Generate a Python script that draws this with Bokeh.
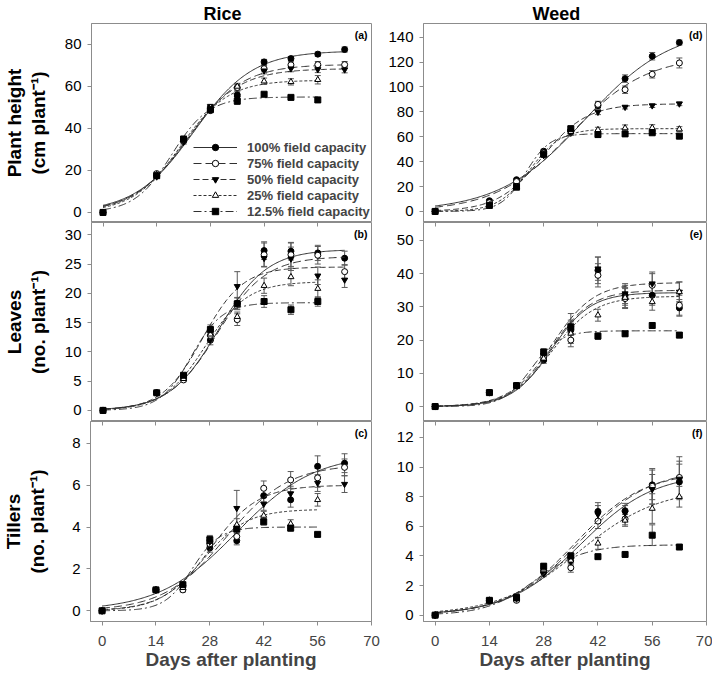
import math
from bokeh.plotting import figure
from bokeh.models import (Range1d, FixedTicker, LinearAxis, Whisker, TeeHead,
                          ColumnDataSource, Legend, LegendItem, Label)
from bokeh.layouts import column, row
from bokeh.embed import file_html
from bokeh.resources import INLINE

# ---------------- data ----------------
days = [0, 14, 21, 28, 35, 42, 49, 56, 63]
x_ticks = [0, 14, 28, 42, 56, 70]
series_labels = ["100% field capacity", "75% field capacity", "50% field capacity",
                 "25% field capacity", "12.5% field capacity"]

# (a) Rice plant height
rice_height = [
    [0, 17.5, 34.5, 48.5, 56.0, 71.7, 73.3, 75.4, 77.6],
    [0, 18.5, 34.0, 49.5, 59.5, 68.5, 70.3, 70.4, 70.4],
    [0, 17.0, 33.5, 50.5, 54.5, 67.5, 68.5, 68.1, 68.0],
    [0, 18.0, 34.5, 50.0, 60.0, 62.5, 62.2, 63.2],
    [0, 17.5, 35.0, 49.0, 53.0, 56.3, 54.8, 53.6],
]
rice_height_err = [
    [0, 0.8, 1.0, 1.0, 1.5, 1.2, 1.0, 1.0, 1.2],
    [0, 0.8, 1.0, 1.0, 1.5, 1.5, 1.5, 1.5, 1.5],
    [0, 0.8, 1.0, 1.0, 1.5, 1.5, 1.5, 1.5, 1.5],
    [0, 0.8, 1.0, 1.0, 1.5, 1.5, 1.5, 2.0],
    [0, 0.8, 1.0, 1.0, 1.5, 0.8, 0.8, 1.2],
]
rice_height_fit = [(77, 23.7, 7.69), (70.5, 22.15, 7.11), (68.5, 21.65, 6.90),
                   (63, 20.2, 6.23), (55, 17.9, 4.82)]

# (d) Weed plant height
weed_height = [
    [0, 8.6, 25.5, 48.4, 65.0, 85.0, 106.7, 124.7, 135.7],
    [0, 7.0, 24.0, 47.0, 64.0, 86.0, 97.8, 110.2, 119.3],
    [0, 5.0, 21.0, 45.0, 63.0, 79.8, 83.8, 85.0, 86.5],
    [0, 5.0, 20.0, 45.5, 64.0, 65.6, 67.0, 67.2, 66.1],
    [0, 4.8, 19.5, 46.0, 66.5, 61.8, 62.3, 63.2, 60.5],
]
weed_height_err = [
    [0, 1.0, 1.0, 1.5, 2.0, 2.0, 3.0, 3.0, 2.0],
    [0, 1.0, 1.0, 1.5, 2.0, 2.5, 3.0, 3.0, 4.0],
    [0, 0.8, 1.0, 1.5, 2.0, 2.0, 1.5, 1.5, 1.5],
    [0, 0.8, 1.0, 1.5, 2.0, 2.0, 2.5, 2.5, 2.0],
    [0, 0.8, 1.0, 1.5, 2.0, 2.5, 1.5, 1.5, 1.5],
]
weed_height_fit = [(148, 38.7, 11.1), (125, 35.0, 9.74), (86.5, 27.55, 5.76),
                   (66.5, 24.4, 4.04), (62.5, 23.4, 3.14)]

# (b) Rice leaves
rice_leaves = [
    [0, 3.0, 5.5, 12.0, 18.3, 27.3, 27.2, 26.9, 26.0],
    [0, 3.0, 5.2, 12.8, 15.5, 26.6, 26.6, 26.5, 23.7],
    [0, 3.0, 5.8, 13.5, 21.2, 26.0, 25.9, 23.0, 22.3],
    [0, 3.0, 5.4, 13.0, 16.0, 21.3, 22.8, 20.8],
    [0, 3.0, 6.0, 13.8, 18.2, 18.6, 17.2, 18.6],
]
rice_leaves_err = [
    [0, 0.2, 0.3, 0.8, 1.0, 1.5, 1.5, 1.3, 1.2],
    [0, 0.2, 0.3, 0.8, 1.0, 2.0, 2.0, 1.5, 1.2],
    [0, 0.2, 0.3, 0.8, 2.5, 1.5, 2.0, 1.5, 1.3],
    [0, 0.2, 0.3, 0.8, 0.8, 1.3, 1.5, 1.5],
    [0, 0.2, 0.3, 0.8, 1.0, 1.0, 0.8, 0.8],
]
rice_leaves_fit = [(27.5, 30.1, 6.33), (26.3, 29.8, 6.32), (24.5, 25.9, 5.26),
                   (22.0, 26.7, 5.52), (18.4, 23.0, 4.05)]

# (e) Weed leaves
weed_leaves = [
    [0, 4.2, 6.3, 14.0, 23.0, 41.0, 33.5, 33.5, 29.7],
    [0, 4.2, 6.3, 15.0, 20.0, 39.5, 32.5, 36.5, 30.5],
    [0, 4.2, 6.3, 15.5, 23.5, 41.5, 34.0, 37.0, 34.5],
    [0, 4.0, 6.3, 14.5, 22.0, 27.5, 32.8, 31.5, 34.5],
    [0, 4.2, 6.3, 16.4, 24.0, 21.2, 21.9, 24.4, 21.5],
]
weed_leaves_err = [
    [0, 0.4, 0.5, 1.0, 2.5, 4.0, 3.0, 3.0, 2.5],
    [0, 0.4, 0.5, 1.0, 2.0, 3.5, 3.0, 3.5, 3.0],
    [0, 0.4, 0.5, 1.0, 4.5, 3.5, 3.0, 3.5, 3.0],
    [0, 0.4, 0.5, 1.0, 2.0, 1.8, 3.0, 2.5, 3.0],
    [0, 0.4, 0.5, 1.0, 2.0, 1.0, 0.8, 0.8, 0.8],
]
weed_leaves_fit = [(34.3, 30.0, 5.08), (35.0, 29.9, 5.17), (37.3, 30.15, 5.41),
                   (33.2, 30.1, 5.5), (22.8, 24.8, 3.65)]

# (c) Rice tillers
rice_tillers = [
    [0, 1.0, 1.2, 3.0, 3.35, 5.5, 5.3, 6.9, 7.05],
    [0, 1.0, 1.0, 3.2, 3.55, 5.85, 6.25, 6.35, 6.85],
    [0, 1.0, 1.2, 3.3, 4.9, 5.1, 5.6, 6.1, 6.05],
    [0, 1.0, 1.1, 3.3, 4.1, 4.55, 4.15, 5.3],
    [0, 1.0, 1.25, 3.4, 3.9, 4.25, 3.95, 3.65],
]
rice_tillers_err = [
    [0, 0.05, 0.1, 0.2, 0.2, 0.3, 0.35, 0.5, 0.45],
    [0, 0.05, 0.1, 0.2, 0.3, 0.35, 0.4, 0.45, 0.4],
    [0, 0.05, 0.1, 0.2, 0.85, 0.3, 0.35, 0.4, 0.4],
    [0, 0.05, 0.1, 0.2, 0.3, 0.2, 0.2, 0.3],
    [0, 0.05, 0.1, 0.2, 0.2, 0.15, 0.15, 0.1],
]
rice_tillers_fit = [(7.5, 35.0, 10.1), (7.0, 32.2, 8.07), (6.0, 28.3, 6.12),
                    (4.85, 26.15, 5.71), (4.0, 23.4, 3.57)]

# (f) Weed tillers
weed_tillers = [
    [0, 1.0, 1.05, 2.9, 3.9, 7.0, 7.05, 8.8, 9.0],
    [0, 1.0, 1.0, 3.0, 3.2, 6.35, 6.5, 8.7, 9.3],
    [0, 1.0, 1.1, 2.8, 3.6, 6.8, 6.9, 8.5, 9.2],
    [0, 1.0, 1.1, 3.1, 3.7, 4.85, 6.4, 7.2, 8.0],
    [0, 1.0, 1.2, 3.3, 4.0, 3.95, 4.1, 5.4, 4.6],
]
weed_tillers_err = [
    [0, 0.05, 0.1, 0.2, 0.3, 0.6, 0.5, 1.0, 1.2],
    [0, 0.05, 0.1, 0.2, 0.3, 0.5, 0.4, 1.2, 1.4],
    [0, 0.05, 0.1, 0.2, 0.3, 0.6, 0.5, 1.0, 1.2],
    [0, 0.05, 0.1, 0.2, 0.3, 0.4, 0.4, 1.0, 0.7],
    [0, 0.05, 0.1, 0.2, 0.2, 0.15, 0.1, 0.7, 0.1],
]
weed_tillers_fit = [(9.6, 37.6, 9.4), (9.9, 37.2, 9.21), (9.7, 36.1, 8.89),
                    (8.6, 37.1, 10.35), (4.75, 25.9, 6.29)]

# ---------------- style ----------------
FONT = "Liberation Sans"
GRAY = "#8c8c8c"
ERR = "#5a5a5a"
LINE = "#303030"
markers = ["circle", "circle", "inverted_triangle", "triangle", "square"]
fills = ["black", "white", "black", "white", "black"]
dashes = ["solid", "8 4", "6 3", "3 2", "8 3 2 3"]


def fit_curve(xs, a, x0, b):
    return [a / (1.0 + math.exp(-(x - x0) / b)) for x in xs]


def make_panel(col, rw, data, err, fit, yr, yt, letter, ylabel=None, title=None,
               title_offset=0, legend=False, ylabel_standoff=13):
    fw = 285 if col == 0 else 283
    mbl = 86 if col == 0 else 42
    mbr = 10 if col == 0 else 6
    fh = [199, 199, 200][rw]
    mbt = 23 if rw == 0 else 0
    mbb = 52 if rw == 2 else 0
    p = figure(width=mbl + fw + mbr, height=mbt + fh + mbb,
               x_range=Range1d(-3, 70), y_range=Range1d(*yr),
               output_backend="svg", toolbar_location=None,
               min_border_left=mbl, min_border_right=mbr,
               min_border_top=mbt, min_border_bottom=mbb)
    p.xgrid.visible = False
    p.ygrid.visible = False
    p.outline_line_color = GRAY
    p.outline_line_width = 1
    p.background_fill_color = "white"
    p.border_fill_color = "white"

    if title:
        p.title.text = title
        p.title.align = "left"
        p.title.offset = title_offset
        p.title.standoff = 0
        p.title.text_font = FONT
        p.title.text_font_size = "18px"
        p.title.text_font_style = "bold"
        p.title.text_color = "black"

    yax = p.yaxis[0]
    yax.ticker = FixedTicker(ticks=yt)
    yax.major_tick_out = 4
    yax.major_tick_in = 0
    yax.minor_tick_line_color = None
    yax.major_tick_line_color = GRAY
    yax.axis_line_color = GRAY
    yax.major_label_text_font = FONT
    yax.major_label_text_font_size = "15px"
    yax.major_label_text_color = "black"
    yax.major_label_standoff = 6
    if ylabel:
        yax.axis_label = ylabel
        yax.axis_label_text_font = FONT
        yax.axis_label_text_font_size = "19px"
        yax.axis_label_text_font_style = "bold"
        yax.axis_label_text_color = "black"
        yax.axis_label_text_line_height = 1.15
        yax.axis_label_standoff = ylabel_standoff

    xax = p.xaxis[0]
    if rw == 2:
        xax.ticker = FixedTicker(ticks=x_ticks)
        xax.major_tick_out = 4
        xax.major_tick_in = 0
        xax.minor_tick_line_color = None
        xax.major_tick_line_color = GRAY
        xax.axis_line_color = GRAY
        xax.major_label_text_font = FONT
        xax.major_label_text_font_size = "15px"
        xax.major_label_standoff = 10
        xax.axis_label = "Days after planting"
        xax.axis_label_text_font = FONT
        xax.axis_label_text_font_size = "19px"
        xax.axis_label_text_font_style = "bold"
        xax.axis_label_standoff = 0
    else:
        xax.visible = False

    if rw > 0:
        # ticks of the panel above, pointing down into this panel
        top_ax = LinearAxis(fixed_location=yr[1], ticker=FixedTicker(ticks=x_ticks),
                            major_tick_in=4, major_tick_out=0,
                            minor_tick_line_color=None, major_tick_line_color=GRAY,
                            axis_line_color=None,
                            major_label_overrides={t: "" for t in x_ticks})
        p.add_layout(top_ax, "above")

    items = []
    for i in range(5):
        yv = data[i]
        ev = err[i]
        xv = days[:len(yv)]
        src = ColumnDataSource(dict(x=xv, y=yv,
                                    lo=[v - e for v, e in zip(yv, ev)],
                                    hi=[v + e for v, e in zip(yv, ev)]))
        w = Whisker(source=src, base="x", upper="hi", lower="lo",
                    line_color=ERR, line_width=1,
                    upper_head=TeeHead(size=6, line_color=ERR, line_width=1),
                    lower_head=TeeHead(size=6, line_color=ERR, line_width=1))
        p.add_layout(w)
        a, x0, b = fit[i]
        last = xv[-1]
        xs = [last * k / 200.0 for k in range(201)]
        lr = p.line(xs, fit_curve(xs, a, x0, b), line_color=LINE, line_width=1,
                    line_dash=dashes[i])
        sr = p.scatter("x", "y", source=src, marker=markers[i], size=6,
                       fill_color=fills[i], line_color="black", line_width=1)
        items.append(LegendItem(label=series_labels[i], renderers=[lr, sr]))

    if legend:
        lg = Legend(items=items, location=(102, 3), padding=0, margin=0, spacing=0,
                    glyph_width=44, glyph_height=16, label_height=16, label_standoff=10,
                    label_text_font=FONT, label_text_font_size="13px",
                    label_text_font_style="bold", border_line_alpha=0,
                    background_fill_alpha=0)
        p.add_layout(lg)

    p.add_layout(Label(x=70, y=fh - 11, x_units="data", y_units="screen", x_offset=-4,
                       text=letter, text_align="right", text_baseline="middle",
                       text_font=FONT, text_font_size="10.5px", text_font_style="bold",
                       text_color="black"))
    return p


pa = make_panel(0, 0, rice_height, rice_height_err, rice_height_fit, (-4.8, 90.0),
                [0, 20, 40, 60, 80], "(a)", ylabel="Plant height\n(cm plant⁻¹)",
                title="Rice", title_offset=112, legend=True)
pd_ = make_panel(1, 0, weed_height, weed_height_err, weed_height_fit, (-8.9, 151.0),
                 [0, 20, 40, 60, 80, 100, 120, 140], "(d)", title="Weed",
                 title_offset=109)
pb = make_panel(0, 1, rice_leaves, rice_leaves_err, rice_leaves_fit, (-1.9, 32.1),
                [0, 5, 10, 15, 20, 25, 30], "(b)", ylabel="Leaves\n(no. plant⁻¹)")
pe = make_panel(1, 1, weed_leaves, weed_leaves_err, weed_leaves_fit, (-4.5, 55.4),
                [0, 10, 20, 30, 40, 50], "(e)")
pc = make_panel(0, 2, rice_tillers, rice_tillers_err, rice_tillers_fit, (-0.51, 9.04),
                [0, 2, 4, 6, 8], "(c)", ylabel="Tillers\n(no. plant⁻¹)", ylabel_standoff=21)
pf = make_panel(1, 2, weed_tillers, weed_tillers_err, weed_tillers_fit, (-0.43, 13.08),
                [0, 2, 4, 6, 8, 10, 12], "(f)")

layout = column(row(pa, pd_), row(pb, pe), row(pc, pf))
open("out.html", "w").write(file_html(layout, INLINE))
